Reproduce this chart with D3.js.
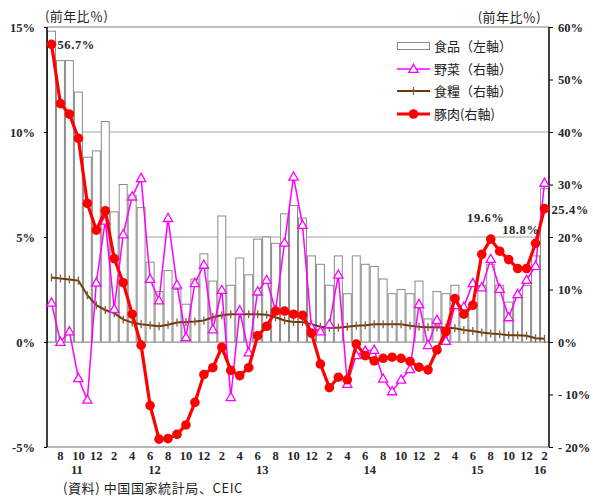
<!DOCTYPE html>
<html>
<head>
<meta charset="utf-8">
<script src="https://cdn.jsdelivr.net/npm/d3@7"></script>
<style>
  body { margin: 0; background: #fff; }
  svg text { font-family: "Liberation Serif", "DejaVu Serif", serif; }
  .jp { font-family: "Noto Sans CJK JP", "Noto Sans CJK SC", sans-serif; }
</style>
</head>
<body>
<svg id="chart" width="593" height="496"></svg>
<script>
// Monthly observations, Jul 2011 – Feb 2016
const months = [
  "2011-07","2011-08","2011-09","2011-10","2011-11","2011-12",
  "2012-01","2012-02","2012-03","2012-04","2012-05","2012-06","2012-07","2012-08","2012-09","2012-10","2012-11","2012-12",
  "2013-01","2013-02","2013-03","2013-04","2013-05","2013-06","2013-07","2013-08","2013-09","2013-10","2013-11","2013-12",
  "2014-01","2014-02","2014-03","2014-04","2014-05","2014-06","2014-07","2014-08","2014-09","2014-10","2014-11","2014-12",
  "2015-01","2015-02","2015-03","2015-04","2015-05","2015-06","2015-07","2015-08","2015-09","2015-10","2015-11","2015-12",
  "2016-01","2016-02"
];

// 食品 (left axis, % y/y)
const food = [
  14.8, 13.4, 13.4, 11.9, 8.8, 9.1,
  10.5, 6.2, 7.5, 7.0, 6.4, 3.8, 2.4, 3.4, 2.5, 1.8, 3.0, 4.2,
  2.9, 6.0, 2.7, 4.0, 3.2, 4.9, 5.0, 4.7, 6.1, 6.5, 5.9, 4.1,
  3.7, 2.7, 4.1, 2.3, 4.1, 3.7, 3.6, 3.0, 2.3, 2.5, 2.3, 2.9,
  1.1, 2.4, 2.3, 2.7, 1.6, 1.8, 2.7, 3.7, 2.7, 1.9, 2.2, 2.7,
  4.1, 7.3
];

// 野菜 (right axis)
const vegetables = [
  7.5, 0.0, 2.0, -6.9, -11.0, 11.3,
  23.1, 6.3, 20.5, 27.7, 31.2, 12.0, 7.9, 23.6, 10.9, 0.9, 11.2, 14.7,
  2.4, 9.9, -10.5, 6.0, -2.0, 9.6, 11.8, 6.0, 18.9, 31.5, 22.3, 2.8,
  2.0, 3.4, 12.8, -8.0, -2.5, -1.7, -1.5, -7.0, -9.4, -7.2, -5.2, 7.2,
  -0.6, 4.2, 0.2, 7.0, 6.7, 11.2, 10.4, 15.8, 10.1, 4.7, 9.1, 11.8,
  14.5, 30.3
];

// 食糧 (right axis)
const grain = [
  12.3, 12.1, 11.9, 11.7, 8.9, 7.0,
  6.1, 5.5, 4.3, 3.7, 3.4, 3.2, 3.0, 3.3, 3.7, 3.8, 3.9, 4.1,
  4.7, 5.1, 5.3, 5.3, 5.3, 5.3, 5.2, 4.7, 4.1, 3.8, 3.8, 3.4,
  2.9, 2.7, 2.7, 2.9, 3.1, 3.2, 3.4, 3.4, 3.4, 3.4, 3.1, 2.9,
  2.8, 2.8, 2.7, 2.6, 2.3, 2.1, 1.8, 1.6, 1.5, 1.3, 1.3, 1.2,
  0.7, 0.6
];

// 豚肉 (right axis)
const pork = [
  56.7, 45.4, 43.4, 38.8, 26.4, 21.3,
  25.0, 15.9, 11.3, 5.3, -0.6, -12.1, -18.5, -18.4, -17.6, -15.8, -11.5, -6.2,
  -4.9, -1.0, -5.4, -6.4, -4.9, 1.2, 3.0, 5.9, 5.9, 5.3, 5.1, 1.7,
  -4.2, -8.7, -6.7, -7.2, -0.4, -2.6, -3.6, -3.1, -2.9, -3.1, -3.7, -4.8,
  -5.3, -1.5, 2.0, 8.3, 5.3, 7.0, 16.7, 19.6, 17.3, 15.7, 14.0, 14.0,
  18.8, 25.4
];

const leftTicks = [-5, 0, 5, 10, 15];
const rightTicks = [-20, -10, 0, 10, 20, 30, 40, 50, 60];
const gridTicks = [5, 10];
const yearLabels = ["11", "12", "13", "14", "15", "16"];
const porkCallouts = ["2011-07", "2015-08", "2016-01", "2016-02"];

const svg = d3.select("#chart");
const m = { left: 47, right: 549, top: 27, bottom: 447 };

const x = d3.scaleBand().domain(months).range([m.left, m.right]).padding(0);
const yL = d3.scaleLinear().domain([-5, 15]).range([m.bottom, m.top]);
const yR = d3.scaleLinear().domain([-20, 60]).range([m.bottom, m.top]);
const cx = d => x(d) + x.bandwidth() / 2;
const numColor = "#262626";

// horizontal grid lines
svg.append("g").selectAll("line").data(gridTicks.concat([0])).join("line")
  .attr("x1", m.left).attr("x2", m.right)
  .attr("y1", d => yL(d)).attr("y2", d => yL(d))
  .attr("stroke", "#a0a0a0").attr("stroke-width", 1);

// food bars
svg.append("g").selectAll("rect").data(months).join("rect")
  .attr("x", d => x(d) + 0.5)
  .attr("width", x.bandwidth() - 1)
  .attr("y", (d, i) => yL(Math.max(0, food[i])))
  .attr("height", (d, i) => Math.abs(yL(food[i]) - yL(0)))
  .attr("fill", "#fff").attr("stroke", "#8a8a8a").attr("stroke-width", 1);

// frame
svg.append("line").attr("x1", m.left).attr("x2", m.right).attr("y1", m.top).attr("y2", m.top)
  .attr("stroke", "#808080").attr("stroke-width", 1.2);
svg.append("line").attr("x1", m.left).attr("x2", m.right).attr("y1", m.bottom).attr("y2", m.bottom)
  .attr("stroke", "#a0a0a0").attr("stroke-width", 1.5);
svg.append("line").attr("x1", m.left).attr("x2", m.left).attr("y1", m.top).attr("y2", m.bottom)
  .attr("stroke", "#000").attr("stroke-width", 1.5);
svg.append("line").attr("x1", m.right).attr("x2", m.right).attr("y1", m.top).attr("y2", m.bottom)
  .attr("stroke", "#000").attr("stroke-width", 1.5);

// left axis
const fmtL = d => (d < 0 ? "-" + Math.abs(d) : d) + "%";
svg.append("g").attr("transform", `translate(${m.left},0)`)
  .call(d3.axisLeft(yL).tickValues(leftTicks).tickSize(3).tickFormat(fmtL))
  .call(a => a.select(".domain").remove())
  .call(a => a.selectAll("line").attr("stroke", "#000"))
  .call(a => a.selectAll("text").attr("x", -12).attr("font-size", 12.5).attr("font-weight", "bold")
    .attr("fill", numColor).style("font-family", "'Liberation Serif', serif"));

// right axis
const fmtR = d => (d < 0 ? "-\u00a0" + Math.abs(d) : d) + "%";
svg.append("g").attr("transform", `translate(${m.right},0)`)
  .call(d3.axisRight(yR).tickValues(rightTicks).tickSize(4).tickFormat(fmtR))
  .call(a => a.select(".domain").remove())
  .call(a => a.selectAll("line").attr("stroke", "#000"))
  .call(a => a.selectAll("text").attr("x", 9).attr("font-size", 12.5).attr("font-weight", "bold")
    .attr("fill", numColor).style("font-family", "'Liberation Serif', serif"));

// month labels (every second month) and year labels
const monthLabelData = months.filter(d => +d.slice(5) % 2 === 0);
svg.append("g").selectAll("text").data(monthLabelData).join("text")
  .attr("x", d => cx(d)).attr("y", 460)
  .attr("text-anchor", "middle").attr("font-size", 12.5).attr("font-weight", "bold").attr("fill", numColor)
  .text(d => +d.slice(5));

svg.append("g").selectAll("text").data(yearLabels).join("text")
  .attr("x", yr => {
    const ms = months.filter(d => d.slice(2, 4) === yr);
    const a = x(ms[0]), b = x(ms[ms.length - 1]) + x.bandwidth();
    return yr === "11" ? (a + b) / 2 + 3 : (a + b) / 2;
  })
  .attr("y", 474)
  .attr("text-anchor", "middle").attr("font-size", 12.5).attr("font-weight", "bold").attr("fill", numColor)
  .text(d => d);

// grain line with tick markers
const brown = "#6b3a10";
svg.append("path").datum(months)
  .attr("d", d3.line().x(d => cx(d)).y((d, i) => yR(grain[i])))
  .attr("fill", "none").attr("stroke", brown).attr("stroke-width", 2);
svg.append("g").selectAll("line").data(months).join("line")
  .attr("transform", (d, i) => `translate(${cx(d)},${yR(grain[i])})`)
  .attr("y1", -4).attr("y2", 4).attr("stroke", "#8b5a2b").attr("stroke-width", 1.3);

// vegetable line with open triangles
const tri = "M0,-4.8L4.6,3.4L-4.6,3.4Z";
svg.append("path").datum(months)
  .attr("d", d3.line().x(d => cx(d)).y((d, i) => yR(vegetables[i])))
  .attr("fill", "none").attr("stroke", "#ff00ff").attr("stroke-width", 1.5);
svg.append("g").selectAll("path").data(months).join("path")
  .attr("transform", (d, i) => `translate(${cx(d)},${yR(vegetables[i])})`)
  .attr("d", tri).attr("fill", "#fff").attr("stroke", "#ff00ff").attr("stroke-width", 1.3);

// pork line with dots
svg.append("path").datum(months)
  .attr("d", d3.line().x(d => cx(d)).y((d, i) => yR(pork[i])))
  .attr("fill", "none").attr("stroke", "#ff0000").attr("stroke-width", 3.2);
svg.append("g").selectAll("circle").data(months).join("circle")
  .attr("cx", d => cx(d)).attr("cy", (d, i) => yR(pork[i])).attr("r", 4.8)
  .attr("fill", "#ff0000");

// pork value callouts
const callPos = {
  "2011-07": { dx: 6, dy: 5, anchor: "start" },
  "2015-08": { dx: -5, dy: -17, anchor: "middle" },
  "2016-01": { dx: 4, dy: -9, anchor: "end" },
  "2016-02": { dx: 7, dy: 5, anchor: "start" }
};
svg.append("g").selectAll("text").data(porkCallouts).join("text")
  .attr("x", d => cx(d) + callPos[d].dx)
  .attr("y", d => yR(pork[months.indexOf(d)]) + callPos[d].dy)
  .attr("text-anchor", d => callPos[d].anchor)
  .attr("font-size", 12.5).attr("font-weight", "bold").attr("fill", numColor)
  .attr("letter-spacing", 0.6)
  .text(d => pork[months.indexOf(d)].toFixed(1) + "%");

// axis titles
svg.append("text").attr("class", "jp").attr("x", 45).attr("y", 21)
  .attr("font-size", 13).attr("letter-spacing", 0.4).attr("fill", "#222").text("(前年比％)");
svg.append("text").attr("class", "jp").attr("x", 541).attr("y", 22).attr("text-anchor", "end")
  .attr("font-size", 13).attr("letter-spacing", 0.4).attr("fill", "#222").text("(前年比％)");

// legend
const legendItems = ["食品（左軸）", "野菜（右軸）", "食糧（右軸）", "豚肉(右軸)"];
const lg = svg.append("g").attr("transform", "translate(397,0)");
const rowY = [46, 69, 91, 114];
legendItems.forEach((t, i) => {
  const row = lg.append("g").attr("transform", `translate(0,${rowY[i]})`);
  if (i === 0) {
    row.append("rect").attr("x", 0.5).attr("y", -3.5).attr("width", 32).attr("height", 7)
      .attr("fill", "#fff").attr("stroke", "#8a8a8a");
  } else if (i === 1) {
    row.append("line").attr("x1", 0).attr("x2", 33).attr("stroke", "#ff00ff").attr("stroke-width", 1.5);
    row.append("path").attr("transform", "translate(16.5,0)").attr("d", tri)
      .attr("fill", "#fff").attr("stroke", "#ff00ff").attr("stroke-width", 1.3);
  } else if (i === 2) {
    row.append("line").attr("x1", 0).attr("x2", 33).attr("stroke", brown).attr("stroke-width", 2);
    row.append("line").attr("x1", 16.5).attr("x2", 16.5).attr("y1", -4).attr("y2", 4)
      .attr("stroke", "#8b5a2b").attr("stroke-width", 1.3);
  } else {
    row.append("line").attr("x1", 0).attr("x2", 33).attr("stroke", "#ff0000").attr("stroke-width", 3.2);
    row.append("circle").attr("cx", 16.5).attr("r", 4.8).attr("fill", "#ff0000");
  }
  row.append("text").attr("class", "jp").attr("x", 37).attr("y", 4.5)
    .attr("font-size", 13).attr("fill", "#222").text(t);
});

// source note
svg.append("text").attr("class", "jp").attr("x", 63).attr("y", 493)
  .attr("font-size", 13).attr("letter-spacing", 0.6).attr("fill", "#222").text("(資料) 中国国家統計局、CEIC");
</script>
</body>
</html>
